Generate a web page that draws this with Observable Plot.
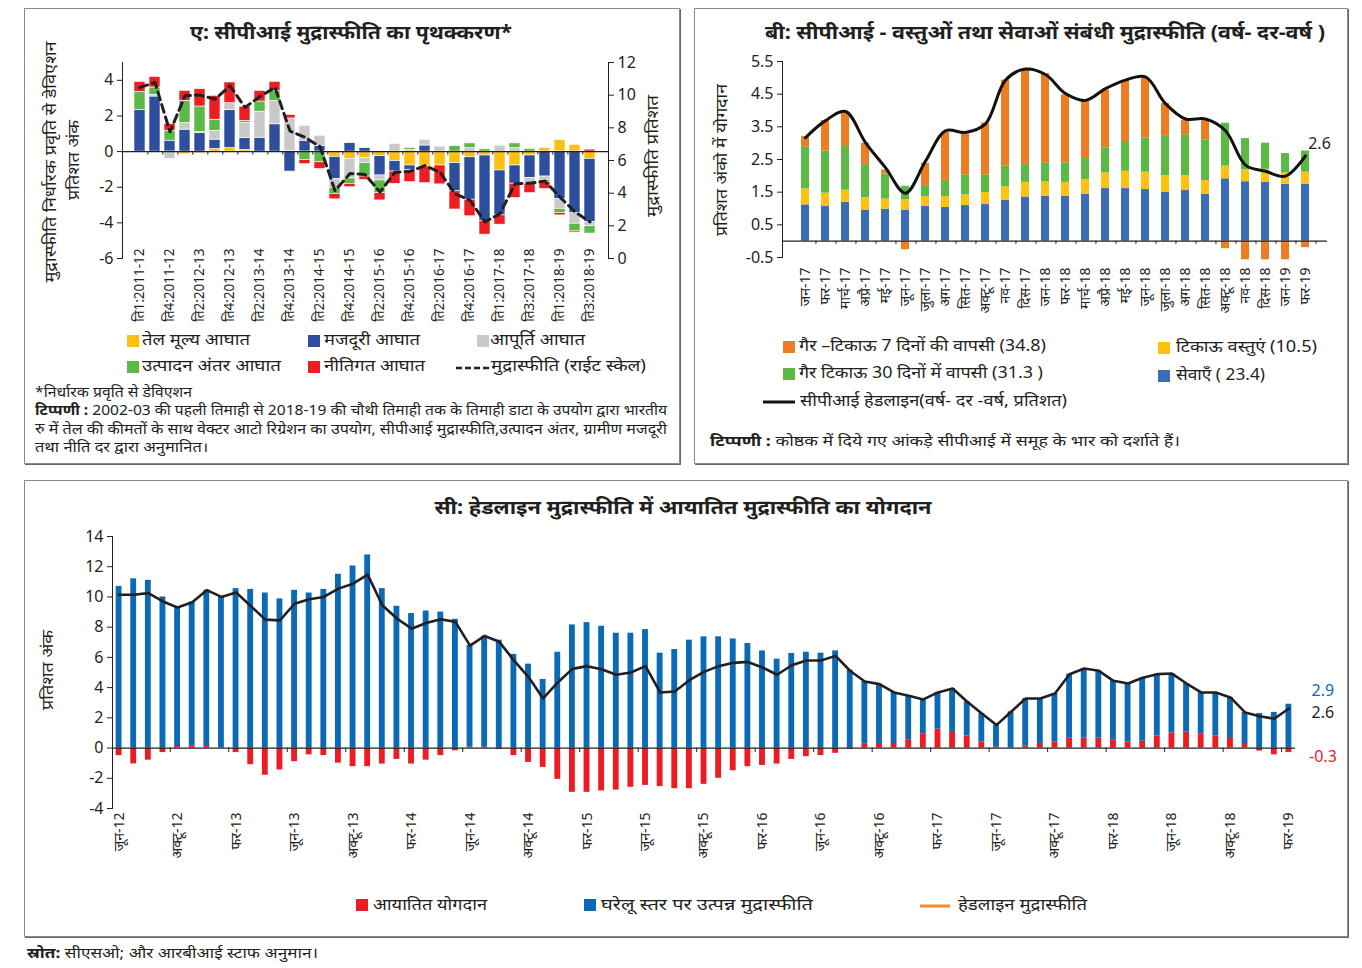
<!DOCTYPE html>
<html><head><meta charset="utf-8">
<script src="https://cdn.jsdelivr.net/npm/d3@7"></script>
<script src="https://cdn.jsdelivr.net/npm/@observablehq/plot@0.6"></script>
<style>
body{margin:0;background:#fff;font-family:"Noto Sans",sans-serif;color:#231f20}
#root{position:relative;width:1362px;height:968px;overflow:hidden;background:#fff}
.box{position:absolute;border:1px solid #8a8a8a;box-shadow:1px 1px 0 #666}
.abs{position:absolute;white-space:nowrap;line-height:1.2}
.pl{position:absolute}
.pl svg{overflow:visible}
</style></head>
<body><div id="root"></div>
<script>
// ---------- Panel A data (quarterly, 31 quarters) ----------
const aTickLabels = ["ति1:2011-12","ति4:2011-12","ति2:2012-13","ति4:2012-13","ति2:2013-14","ति4:2013-14","ति2:2014-15","ति4:2014-15","ति2:2015-16","ति4:2015-16","ति2:2016-17","ति4:2016-17","ति1:2017-18","ति3:2017-18","ति1:2018-19","ति3:2018-19"];
const aNames = ["तेल मूल्य आघात","मजदूरी आघात","आपूर्ति आघात","उत्पादन अंतर आघात","नीतिगत आघात"];
const aColors = ["#FDC010","#2E4E9E","#C9C9C9","#5BB947","#EE1D23"];
const aOil    = [0,0,0,-0.15,-0.1,0.15,0.2,0.1,0,0,0.03,0,0,-0.3,-0.41,-0.35,-0.26,-0.54,-0.78,-0.84,-0.78,-0.65,-0.32,-0.22,-1.06,-0.78,-0.22,0.2,0.65,0.37,-0.41];
const aWage   = [2.33,3.09,0.61,1.23,1.04,0.52,2.13,0.65,0.78,1.53,-1.12,0.61,0.32,-1.23,0.47,0.19,-1.08,-0.58,-0.24,0.34,0,-1.58,-2.38,-3.69,-2.52,-1.02,-1.25,-1.4,-2.65,-3.45,-3.54];
const aSupply = [0,0.1,-0.41,0.37,0.06,0.5,0.39,0.85,1.46,1.32,1.83,0.84,0.57,-0.52,-1.1,-0.3,-0.28,0.43,0.1,0.32,0.28,0,0.2,0,0.3,0.2,-0.34,-0.19,-0.56,-0.6,-0.24];
const aGap    = [1.02,0.41,0.56,1.25,1.43,0.62,0,0.13,0.57,0.56,0,-0.47,-0.6,-0.32,-0.3,-0.75,-0.71,0,0.1,0,0,0.3,0.26,0.13,0.05,0.26,0.15,-0.13,-0.24,-0.43,-0.41];
const aPolicy = [0.56,0.59,0.38,0.56,0.97,1.34,1.16,0.79,0.6,0.5,0.19,-0.24,-0.37,-0.31,-0.19,-0.19,-0.41,-0.69,-0.69,-0.93,-1.06,-1.02,-0.93,-0.75,-0.52,-0.8,-0.52,-0.37,-0.13,-0.07,0.11];
const aInflation = [10.47,10.78,7.75,9.96,10.0,9.75,10.57,9.25,9.92,10.47,7.8,7.42,6.85,4.15,5.2,5.15,4.07,5.28,5.33,5.69,5.28,3.96,3.56,2.24,2.74,4.57,4.61,4.74,3.76,2.85,2.24];

// ---------- Panel B data (monthly Jan-17 .. Feb-19) ----------
const bMonths = ["जन-17","फर-17","मार्च-17","अप्रै-17","मई-17","जून-17","जुला-17","अग-17","सित-17","अक्टू-17","नव-17","दिस-17","जन-18","फर-18","मार्च-18","अप्रै-18","मई-18","जून-18","जुला-18","अग-18","सित-18","अक्टू-18","नव-18","दिस-18","जन-19","फर-19"];
const bNames = ["सेवाएँ ( 23.4)","टिकाऊ वस्तुएं (10.5)","गैर टिकाऊ 30 दिनों में वापसी (31.3 )","गैर –टिकाऊ 7 दिनों की वापसी (34.8)"];
const bColors = ["#3A6DB5","#FFC20E","#5CB946","#EE7D21"];
const bServices = [1.11,1.06,1.19,0.94,0.98,0.94,1.06,1.03,1.09,1.12,1.25,1.35,1.37,1.37,1.43,1.61,1.61,1.58,1.49,1.55,1.44,1.91,1.82,1.8,1.74,1.74];
const bDurables = [0.49,0.41,0.37,0.39,0.31,0.33,0.31,0.34,0.33,0.37,0.41,0.45,0.44,0.43,0.46,0.48,0.53,0.53,0.52,0.46,0.42,0.39,0.36,0.4,0.35,0.37];
const bNd30     = [1.29,1.29,1.34,1.02,0.77,0.41,0.33,0.49,0.61,0.54,0.64,0.55,0.59,0.6,0.64,0.77,0.88,1.05,1.22,1.25,1.24,1.31,0.96,0.8,0.59,0.65];
const bNd7      = [0.31,0.93,1.03,0.65,0.12,-0.26,0.68,1.47,1.27,1.59,2.63,2.91,2.73,2.08,1.78,1.76,1.88,1.82,0.98,0.43,0.59,-0.23,-0.57,-0.57,-0.57,-0.2];
const bHeadline = [3.17,3.69,3.97,3.02,2.25,1.47,2.45,3.38,3.33,3.59,4.93,5.27,5.1,4.52,4.31,4.67,4.93,5.03,4.21,3.74,3.74,3.38,2.33,2.14,1.99,2.61];

// ---------- Panel C data (monthly Jun-12 .. Feb-19, 81 months) ----------
const cTickLabels = ["जून-12","अक्टू-12","फर-13","जून-13","अक्टू-13","फर-14","जून-14","अक्टू-14","फर-15","जून-15","अक्टू-15","फर-16","जून-16","अक्टू-16","फर-17","जून-17","अक्टू-17","फर-18","जून-18","अक्टू-18","फर-19"];
const cNames = ["आयातित योगदान","घरेलू स्तर पर  उत्पन्न मुद्रास्फीति"];
const cColors = ["#ED1C24","#0A6AB6"];
const cImported = [-0.5,-1.05,-0.8,-0.3,0.1,0.15,0.1,0,-0.3,-1.1,-1.8,-1.45,-0.9,-0.45,-0.5,-1.0,-1.23,-1.23,-1.06,-0.75,-1.06,-0.8,-0.5,-0.18,0.05,0.05,-0.1,-0.5,-0.95,-1.28,-2.07,-2.93,-2.93,-2.84,-2.78,-2.6,-2.47,-2.55,-2.69,-2.69,-2.4,-2.0,-1.5,-1.23,-1.15,-1.06,-0.75,-0.57,-0.5,-0.35,-0.09,0.25,0.3,0.3,0.55,0.95,1.25,1.1,0.8,0.4,0.05,0,0.15,0.3,0.4,0.65,0.65,0.65,0.55,0.4,0.45,0.8,1.0,1.05,0.95,0.8,0.7,0.3,-0.2,-0.45,-0.3];
const cDomestic = [10.7,11.2,11.1,10.0,9.2,9.5,10.35,10.0,10.55,10.5,10.26,9.87,10.44,10.26,10.5,11.5,12.05,12.78,10.55,9.38,8.9,9.07,9.0,8.52,6.74,7.35,7.14,6.2,5.55,4.54,6.34,8.15,8.3,8.06,7.6,7.6,7.84,6.28,6.52,7.14,7.36,7.36,7.22,6.92,6.43,5.88,6.26,6.34,6.28,6.43,5.15,4.15,3.93,3.38,2.91,2.27,2.43,2.84,2.26,1.89,1.46,2.4,3.13,2.98,3.21,4.24,4.61,4.46,3.9,3.87,4.2,4.09,3.93,3.22,2.73,2.88,2.65,2.06,2.29,2.36,2.9];
const cHeadline = [10.15,10.15,10.25,9.7,9.3,9.65,10.45,10.0,10.3,9.4,8.5,8.45,9.55,9.85,10.0,10.55,10.88,11.48,9.45,8.57,7.9,8.28,8.52,8.35,6.78,7.42,7.03,5.8,4.7,3.28,4.34,5.24,5.42,5.22,4.85,5.0,5.42,3.68,3.74,4.49,5.04,5.42,5.64,5.7,5.33,4.85,5.48,5.79,5.79,6.1,5.1,4.4,4.23,3.68,3.46,3.22,3.68,3.94,3.06,2.29,1.52,2.4,3.28,3.28,3.61,4.89,5.26,5.11,4.45,4.27,4.65,4.89,4.93,4.27,3.68,3.68,3.35,2.36,2.11,1.94,2.62];

// ---------- helpers ----------
const root = document.getElementById("root");
const FONT = '"Noto Sans", sans-serif';
const plain = d => String(d);
function box(x,y,w,h){const d=document.createElement("div");d.className="box";Object.assign(d.style,{left:x+"px",top:y+"px",width:w+"px",height:h+"px"});root.appendChild(d);}
function put(html,x,y,o={}){
  const d=document.createElement("div");d.className="abs";d.innerHTML=html;
  d.style.fontSize=(o.size||15)+"px";
  if(o.bold)d.style.fontWeight="bold";
  if(o.color)d.style.color=o.color;
  d.style.left=x+"px";d.style.top=y+"px";
  root.appendChild(d);
  const r=d.getBoundingClientRect();
  let sx=1; if(o.w){sx=o.w/r.width;}
  if(o.rot){d.style.transform=`translate(-50%,-50%) rotate(-90deg) scaleX(${sx})`;}
  else if(o.anchor==="middle"){d.style.transform=`translate(-50%,-50%) scaleX(${sx})`;}
  else {d.style.transformOrigin="left center";d.style.transform=`translateY(-50%) scaleX(${sx})`;}
  return d;
}
function sw(x,y,color,s=12){const d=document.createElement("div");Object.assign(d.style,{position:"absolute",left:x+"px",top:(y-s/2)+"px",width:s+"px",height:s+"px",background:color});root.appendChild(d);}
function lineSw(x1,x2,y,color,w,dash){const ns="http://www.w3.org/2000/svg";const s=document.createElementNS(ns,"svg");s.setAttribute("width",x2-x1);s.setAttribute("height",8);Object.assign(s.style,{position:"absolute",left:x1+"px",top:(y-4)+"px"});const l=document.createElementNS(ns,"line");l.setAttribute("x1",0);l.setAttribute("x2",x2-x1);l.setAttribute("y1",4);l.setAttribute("y2",4);l.setAttribute("stroke",color);l.setAttribute("stroke-width",w);if(dash)l.setAttribute("stroke-dasharray",dash);s.appendChild(l);root.appendChild(s);}
function placePlot(svg,x,y){const d=document.createElement("div");d.className="pl";d.style.left=x+"px";d.style.top=y+"px";d.appendChild(svg);root.appendChild(d);}

box(24,8,654,454); box(694,8,652,454); box(24,480,1322,455);

// ---------- Panel A ----------
{
  const n=aOil.length, series=[aOil,aWage,aSupply,aGap,aPolicy];
  const rows=[]; for(let i=0;i<n;i++) series.forEach((s,k)=>rows.push({i,s:aNames[k],v:s[i]}));
  const W=640,H=292,mL=92,mR=62,mT=12,mB=84,pi=0.25,po=0.09;
  const step=(W-mL-mR)/(n-pi+2*po);
  const toLeft=r=>-6+r*11/12, toRight=v=>String(Math.round((v+6)*12/11));
  const svg=Plot.plot({
    width:W,height:H,marginLeft:mL,marginRight:mR,marginTop:mT,marginBottom:mB,
    style:{fontFamily:FONT,fontSize:"15px",color:"#231f20",background:"transparent"},
    x:{type:"band",domain:d3.range(n),paddingInner:pi,paddingOuter:po},
    y:{domain:[-6,5]},
    color:{domain:aNames,range:aColors},
    marks:[
      Plot.barY(rows,{x:"i",y:"v",fill:"s",stroke:"white",strokeWidth:0.6}),
      Plot.ruleY([0],{stroke:"#231f20",strokeWidth:1.2}),
      Plot.ruleX(d3.range(n-1),{x:d=>d,y1:0,y2:-0.2,dx:step/2,stroke:"#231f20"}),
      Plot.line(aInflation,{x:(d,i)=>i,y:d=>toLeft(d),stroke:"#231f20",strokeWidth:3,strokeDasharray:"8,5"}),
      Plot.frame({anchor:"left",stroke:"#231f20"}),
      Plot.frame({anchor:"right",stroke:"#231f20"}),
      Plot.axisY([-6,-4,-2,0,2,4],{anchor:"left",label:null,tickSize:5,fontSize:16,tickFormat:plain}),
      Plot.axisY(d3.range(0,13,2).map(toLeft),{anchor:"right",label:null,tickSize:5,fontSize:16,tickFormat:toRight}),
      Plot.axisX(d3.range(0,n,2),{anchor:"bottom",label:null,tickSize:0,tickPadding:-10,tickRotate:-90,fontSize:13.5,tickFormat:i=>aTickLabels[i/2]})
    ]
  });
  placePlot(svg,30,50);
  put("ए: सीपीआई मुद्रास्फीति का पृथक्करण*",351,32,{bold:true,size:19,anchor:"middle",w:322});
  put("मुद्रास्फीति निर्धारक प्रवृति से डेविएशन",51,162,{size:16,rot:true,w:241});
  put("प्रतिशत अंक",74,160,{size:16,rot:true,w:80});
  put("मुद्रास्फीति प्रतिशत",653,156,{size:16,rot:true,w:122});
  // legend
  sw(127,341,aColors[0]); put(aNames[0],142,340,{size:16,w:108});
  sw(308,341,aColors[1]); put(aNames[1],324,340,{size:16,w:96});
  sw(477,341,aColors[2]); put(aNames[2],490,340,{size:16,w:95});
  sw(127,367,aColors[3]); put(aNames[3],142,366,{size:16,w:139});
  sw(308,367,aColors[4]); put(aNames[4],324,366,{size:16,w:101});
  lineSw(456,490,368,"#231f20",2.5,"6,3"); put("मुद्रास्फीति (राईट स्केल)",491,366,{size:16,w:155});
  put("*निर्धारक प्रवृति से डेविएशन",35,392,{size:13.5,w:157});
  put("<b>टिप्पणी :</b> 2002-03 की पहली तिमाही से 2018-19 की चौथी तिमाही तक के तिमाही डाटा के उपयोग द्वारा भारतीय",35,410,{size:13.5,w:632});
  put("रु में तेल की कीमतों के साथ वेक्टर आटो रिग्रेशन का उपयोग, सीपीआई मुद्रास्फीति,उत्पादन अंतर, ग्रामीण मजदूरी",35,429,{size:13.5,w:632});
  put("तथा नीति दर द्वारा अनुमानित।",35,447,{size:13.5,w:173});
}

// ---------- Panel B ----------
{
  const n=bMonths.length, series=[bServices,bDurables,bNd30,bNd7];
  const rows=[]; for(let i=0;i<n;i++) series.forEach((s,k)=>rows.push({i,s:bNames[k],v:s[i]}));
  const W=645,H=280,mL=82,mR=18,mT=11,mB=73,pi=0.6,po=0.325;
  const step=(W-mL-mR)/(n-pi+2*po);
  const svg=Plot.plot({
    width:W,height:H,marginLeft:mL,marginRight:mR,marginTop:mT,marginBottom:mB,
    style:{fontFamily:FONT,fontSize:"15px",color:"#231f20",background:"transparent"},
    x:{type:"band",domain:d3.range(n),paddingInner:pi,paddingOuter:po},
    y:{domain:[-0.5,5.5]},
    color:{domain:bNames,range:bColors},
    marks:[
      Plot.barY(rows,{x:"i",y:"v",fill:"s"}),
      Plot.ruleY([0],{stroke:"#231f20",strokeWidth:1.2}),
      Plot.ruleX(d3.range(n),{x:d=>d,y1:0,y2:-0.1,dx:step/2,stroke:"#231f20"}),
      Plot.line(bHeadline,{x:(d,i)=>i,y:d=>d,stroke:"#111",strokeWidth:3,curve:"catmull-rom"}),
      Plot.text([bHeadline[n-1]],{x:()=>n-1,y:d=>d,text:d=>d.toFixed(1),dx:14,dy:-12,fontSize:16,fill:"#231f20"}),
      Plot.frame({anchor:"left",stroke:"#231f20"}),
      Plot.axisY(d3.range(-0.5,5.6,1),{anchor:"left",label:null,tickSize:5,fontSize:16,tickFormat:d=>d.toFixed(1)}),
      Plot.axisX(d3.range(n),{anchor:"bottom",label:null,tickSize:0,tickPadding:10,tickRotate:-90,fontSize:14,tickFormat:i=>bMonths[i]})
    ]
  });
  placePlot(svg,700,50);
  put("बी: सीपीआई - वस्तुओं तथा सेवाओं संबंधी मुद्रास्फीति (वर्ष- दर-वर्ष )",1045,32,{bold:true,size:19,anchor:"middle",w:560});
  put("प्रतिशत अंको में योगदान",722,160,{size:16,rot:true,w:152});
  sw(783,347,bColors[3]); put(bNames[3],799,346,{size:16,w:247});
  sw(1158,348,bColors[1]); put(bNames[1],1176,347,{size:16,w:141});
  sw(783,374,bColors[2]); put(bNames[2],799,373,{size:16,w:244});
  sw(1158,376,bColors[0]); put(bNames[0],1176,375,{size:16,w:89});
  lineSw(763,795,402,"#111",3); put("सीपीआई हेडलाइन(वर्ष- दर -वर्ष, प्रतिशत)",800,401,{size:16,w:267});
  put("<b>टिप्पणी :</b> कोष्ठक में दिये गए आंकड़े सीपीआई में समूह के भार को दर्शाते हैं।",710,440,{size:15,w:470});
}

// ---------- Panel C ----------
{
  const n=cHeadline.length, series=[cImported,cDomestic];
  const rows=[]; for(let i=0;i<n;i++) series.forEach((s,k)=>rows.push({i,s:cNames[k],v:s[i]}));
  const W=1315,H=345,mL=82,mR=50,mT=11,mB=62,pi=0.6,po=0.25;
  const step=(W-mL-mR)/(n-pi+2*po);
  const svg=Plot.plot({
    width:W,height:H,marginLeft:mL,marginRight:mR,marginTop:mT,marginBottom:mB,
    style:{fontFamily:FONT,fontSize:"15px",color:"#231f20",background:"transparent"},
    x:{type:"band",domain:d3.range(n),paddingInner:pi,paddingOuter:po},
    y:{domain:[-4,14]},
    color:{domain:cNames,range:cColors},
    marks:[
      Plot.barY(rows,{x:"i",y:"v",fill:"s"}),
      Plot.ruleY([0],{stroke:"#231f20",strokeWidth:1.2}),
      Plot.ruleX(d3.range(3,n-1,4),{x:d=>d,y1:0,y2:-0.3,dx:step/2,stroke:"#231f20"}),
      Plot.line(cHeadline,{x:(d,i)=>i,y:d=>d,stroke:"#231f20",strokeWidth:2.6}),
      Plot.text([cDomestic[n-1]],{x:()=>n-1,y:d=>d,text:d=>d.toFixed(1),dx:34,dy:-13,fontSize:16,fill:cColors[1]}),
      Plot.text([cHeadline[n-1]],{x:()=>n-1,y:d=>d,text:d=>d.toFixed(1),dx:34,dy:4,fontSize:16,fill:"#231f20"}),
      Plot.text([cImported[n-1]],{x:()=>n-1,y:d=>d,text:d=>d.toFixed(1),dx:34,dy:4,fontSize:16,fill:cColors[0]}),
      Plot.frame({anchor:"left",stroke:"#231f20"}),
      Plot.axisY(d3.range(-4,15,2),{anchor:"left",label:null,tickSize:5,fontSize:16,tickFormat:plain}),
      Plot.axisX(d3.range(0,n,4),{anchor:"bottom",label:null,tickSize:0,tickPadding:4,tickRotate:-90,fontSize:14,tickFormat:i=>cTickLabels[i/4]})
    ]
  });
  placePlot(svg,30,525);
  put("सी: हेडलाइन मुद्रास्फीति में आयातित मुद्रास्फीति का योगदान",683,507,{bold:true,size:19,anchor:"middle",w:497});
  put("प्रतिशत अंक",48,670,{size:16,rot:true,w:80});
  sw(356,905,cColors[0]); put(cNames[0],373,905,{size:16,w:114});
  sw(584,905,cColors[1]); put(cNames[1],601,905,{size:16,w:212});
  lineSw(920,950,906,"#F28C28",3); put("हेडलाइन मुद्रास्फीति",958,905,{size:16,w:129});
}
put("<b>स्रोत:</b> सीएसओ; और आरबीआई स्टाफ अनुमान।",27,952,{size:15,w:291});
</script>
</body></html>
